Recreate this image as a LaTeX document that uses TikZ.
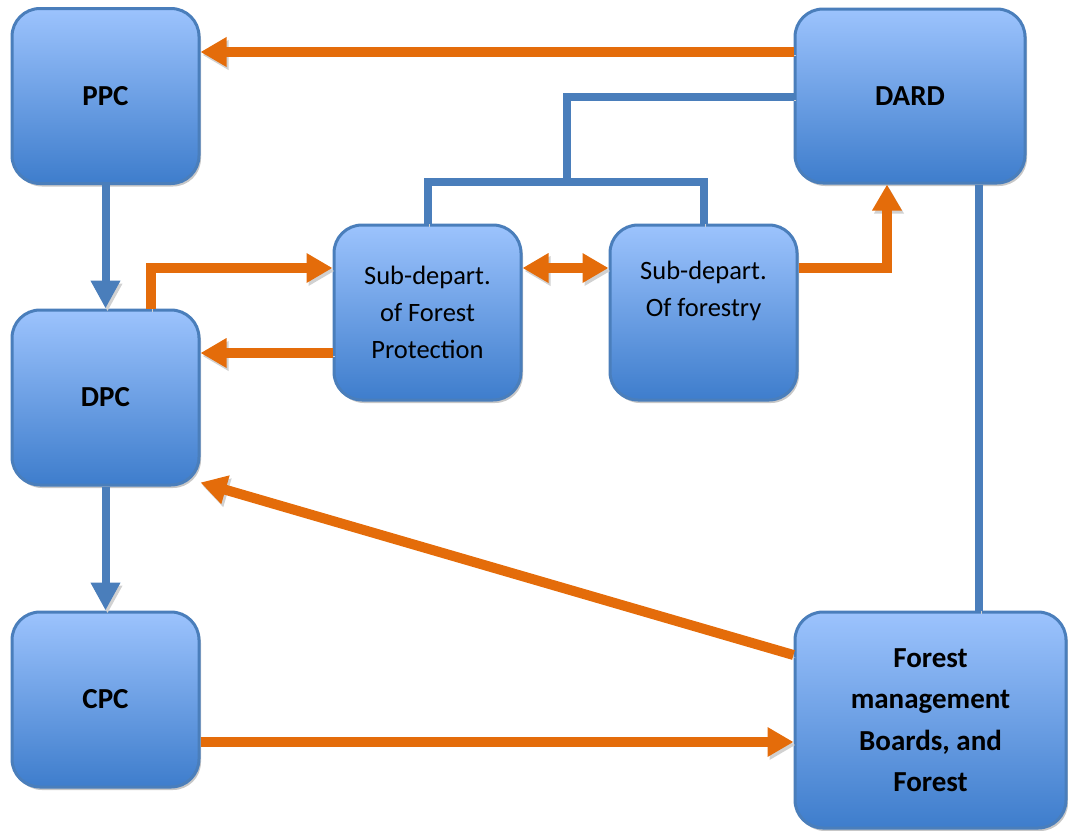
\documentclass[tikz,border=0pt]{standalone}
\usepackage{fontspec}
\setmainfont{Carlito}
\usetikzlibrary{arrows.meta,shadows}
\definecolor{orng}{RGB}{228,108,10}
\definecolor{bln}{RGB}{74,126,187}
\definecolor{btop}{RGB}{156,195,253}
\definecolor{bbot}{RGB}{62,125,204}
\tikzset{
  box/.style={rectangle, rounded corners=28pt, draw=bln, line width=3pt,
    top color=btop, bottom color=bbot, inner sep=0pt, align=center,
    drop shadow={shadow xshift=2pt, shadow yshift=-3pt, fill=black!22, opacity=1}},
  bigbox/.style={box, font=\fontsize{29}{38}\selectfont\bfseries},
  smallbox/.style={box, font=\fontsize{26.5}{37}\selectfont},
  shad/.style={preaction={draw=black!18, transform canvas={shift={(2pt,-3pt)}}}},
  oline/.style={draw=orng, line width=10pt, shad},
  oarr/.style={oline, -{Triangle[length=26pt,width=28pt]}},
  odarr/.style={oline, {Triangle[length=26pt,width=28pt]}-{Triangle[length=26pt,width=28pt]}},
  bline/.style={draw=bln, line width=8pt, shad},
  barr/.style={bline, -{Triangle[length=28pt,width=28pt]}}
}
\begin{document}
\begin{tikzpicture}[x=1pt,y=-1pt]
\useasboundingbox (0,0) rectangle (1068,830);
\node[bigbox, minimum width=187pt, minimum height=175pt] (PPC) at (105.5,96) {PPC};
\node[bigbox, minimum width=230pt, minimum height=174pt] (DARD) at (910,96) {DARD};
\node[bigbox, minimum width=187pt, minimum height=175pt] (DPC) at (105.5,397.5) {DPC};
\node[bigbox, minimum width=187pt, minimum height=175pt] (CPC) at (105.5,699.5) {CPC};
\node[smallbox, minimum width=187pt, minimum height=175pt] (SFP) at (427.5,312.5) {Sub-depart.\\of Forest\\Protection};
\node[smallbox, minimum width=187pt, minimum height=175pt] (SF) at (703.5,312.5) {Sub-depart.\\Of forestry\\\strut};
\node[bigbox, minimum width=271pt, minimum height=216pt, font=\fontsize{29}{41.5}\selectfont\bfseries] (FM) at (930.5,720) {Forest\\management\\Boards, and\\Forest};
\coordinate (bar) at (567,182);
% blue connectors
\draw[bline] ([yshift=-1pt]DARD.west) -| (bar);
\draw[bline] (SFP.north) |- (bar) -| (SF.north);
\draw[bline] ([xshift=69pt]DARD.south) -- ([xshift=48.5pt]FM.north);
\draw[barr] (PPC.south) -- (DPC.north);
\draw[barr] (DPC.south) -- (CPC.north);
% orange connectors
\draw[oarr] ([yshift=44pt]DARD.west) -- ([yshift=44pt]PPC.east);
\draw[oarr] ([xshift=45pt]DPC.north) |- ([yshift=44.5pt]SFP.west);
\draw[oarr] ([yshift=-40.5pt]SFP.west) -- ([yshift=44.5pt]DPC.east);
\draw[odarr] ([yshift=44.5pt]SFP.east) -- ([yshift=44.5pt]SF.west);
\draw[oarr] ([yshift=44.5pt]SF.east) -| ([xshift=-23pt]DARD.south);
\draw[oarr] ([yshift=65pt]FM.west) -- ([yshift=-85pt]DPC.east);
\draw[oarr] ([yshift=-42.5pt]CPC.east) -- ([yshift=-22pt]FM.west);
\end{tikzpicture}
\end{document}
